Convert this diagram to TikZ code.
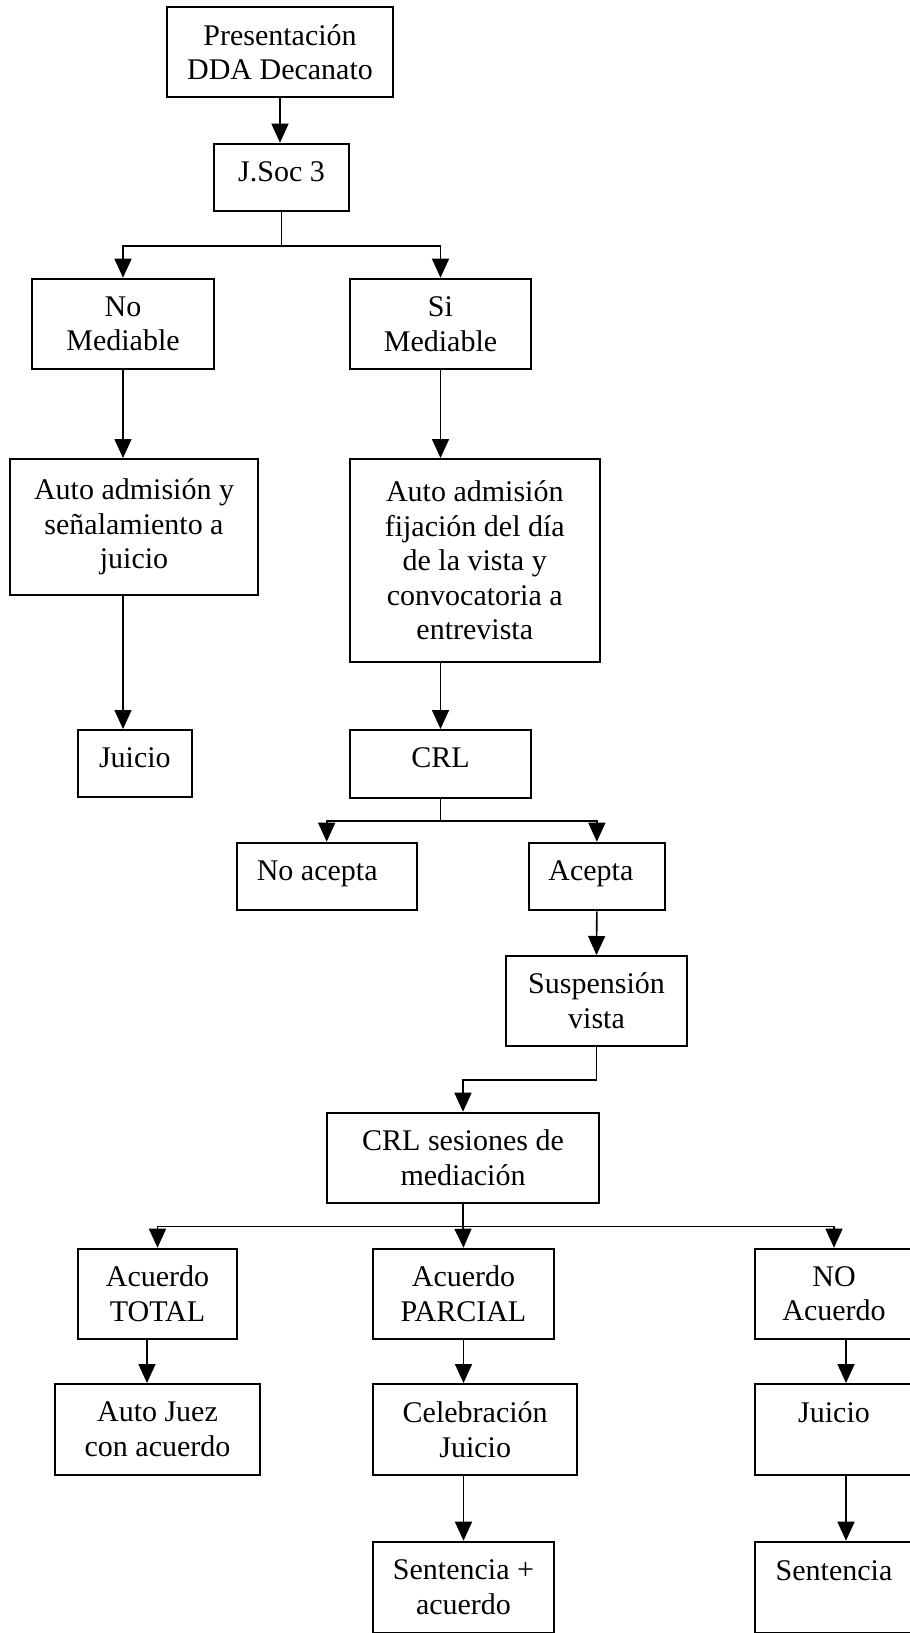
\documentclass[tikz,border=0pt]{standalone}
\usepackage{fontspec}
\setmainfont{Liberation Serif}
\usetikzlibrary{arrows.meta,positioning}

\begin{document}
\begin{tikzpicture}[x=1pt,y=-1pt,>={Triangle[length=19pt,width=17pt]},
  box/.style 2 args={draw,line width=2pt,anchor=north west,align=center,
    font=\fontsize{30}{34.5}\selectfont,minimum width=#1pt,minimum height=#2pt},
  oneline/.style={text height=21pt,text depth=#1pt},
  link/.style={line width=1.6pt},
  arrow/.style={link,->}]
  \useasboundingbox (0,0) rectangle (910,1633);

  \node[box={226}{90.6}] (pres) at (166,5.7) {Presentación\\DDA Decanato};
  \node[box={135}{67},oneline=13] (jsoc) at (213,142.7) {J.Soc 3};
  \node[box={181.4}{90.6}] (nomed) at (31.3,277.7) {No\\Mediable};
  \node[box={181}{90.6}] (simed) at (349,277.7) {Si\\Mediable};
  \node[box={248.6}{135.7}] (autoy) at (8.7,458) {Auto admisión y\\señalamiento a\\juicio};
  \node[box={250.5}{203.3}] (autofij) at (348.5,458)
    {Auto admisión\\fijación del día\\de la vista y\\convocatoria a\\entrevista};
  \node[box={113.8}{67.3},oneline=13] (juicioa) at (77,729) {Juicio};
  \node[box={181}{67.7},oneline=13] (crl) at (349,729) {CRL};
  \node[box={180}{67.7},oneline=13] (noacep) at (235.7,841.7) {No acepta\kern19pt};
  \node[box={135.7}{67.7},oneline=13] (acep) at (528,841.7) {Acepta\kern12pt};
  \node[box={181}{89.7}] (susp) at (505,955) {Suspensión\\vista};
  \node[box={272}{90.3}] (sesion) at (326,1111.7) {CRL sesiones de\\mediación};
  \node[box={159}{90.3}] (total) at (77,1247.7) {Acuerdo\\TOTAL};
  \node[box={181}{90.3}] (parcial) at (372,1247.7) {Acuerdo\\PARCIAL};
  \node[box={158}{90.3}] (noacu) at (754,1247.7) {NO\\Acuerdo};
  \node[box={205}{90.7}] (juez) at (54,1383) {Auto Juez\\con acuerdo};
  \node[box={204.4}{91}] (celeb) at (372,1383) {Celebración\\Juicio};
  \node[box={158}{91},oneline=34.5] (juiciob) at (754,1383) {Juicio};
  \node[box={181}{91.3}] (sentacu) at (372,1540.7) {Sentencia +\\acuerdo};
  \node[box={158}{91.3},oneline=34.5] (sent) at (754,1540.7) {Sentencia};

  \draw[arrow] (pres.south) -- (pres.south |- jsoc.north);
  \draw[link] (jsoc.south) -- ++(0,34) coordinate (fork1);
  \draw[arrow] (fork1) -| (nomed.north);
  \draw[arrow] (fork1) -| (simed.north);

  \draw[arrow] (nomed.south) -- (nomed.south |- autoy.north);
  \draw[arrow] (nomed.south |- autoy.south) -- (nomed.south |- juicioa.north);
  \draw[arrow] (simed.south) -- (simed.south |- autofij.north);
  \draw[arrow] (simed.south |- autofij.south) -- (crl.north);

  \draw[link] (crl.south) -- ++(0,22) coordinate (fork2);
  \draw[arrow] (fork2) -| (noacep.north);
  \draw[arrow] (fork2) -| (acep.north);
  \draw[arrow] (acep.south) -- (susp.north);
  \draw[arrow] (susp.south) -- ++(0,33.3) -| (sesion.north);

  \draw[link] (sesion.south) -- ++(0,22.3) coordinate (fork3);
  \draw[arrow] (fork3) -| (total.north);
  \draw[arrow] (fork3) -- (parcial.north);
  \draw[arrow] (fork3) -| (noacu.north);

  \draw[arrow] ([xshift=-10.5pt]total.south) -- ([xshift=-10.5pt]juez.north);
  \draw[arrow] (parcial.south) -- (parcial.south |- celeb.north);
  \draw[arrow] (parcial.south |- celeb.south) -- (sentacu.north);
  \draw[arrow] ([xshift=12pt]noacu.south) -- ([xshift=12pt]juiciob.north);
  \draw[arrow] ([xshift=12pt]juiciob.south) -- ([xshift=12pt]sent.north);
\end{tikzpicture}
\end{document}
